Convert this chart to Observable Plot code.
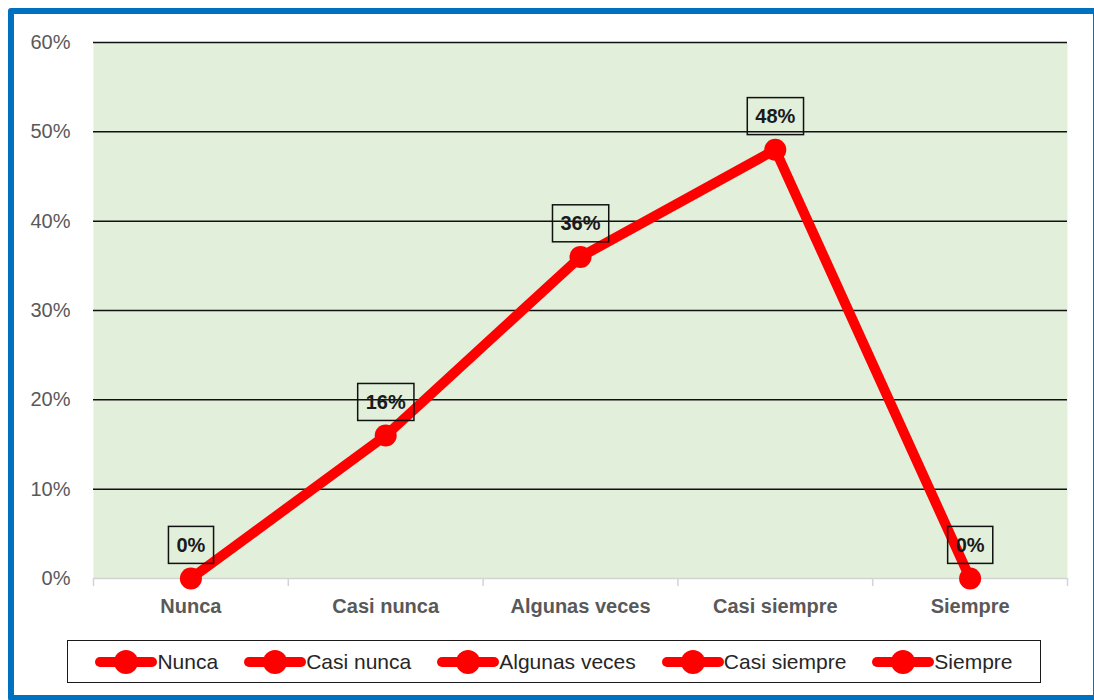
<!DOCTYPE html>
<html>
<head>
<meta charset="utf-8">
<script src="https://cdn.jsdelivr.net/npm/d3@7"></script>
<script src="https://cdn.jsdelivr.net/npm/@observablehq/plot@0.6"></script>
<style>
  html, body { margin: 0; padding: 0; background: #fff; overflow: hidden; }
  #wrap { position: relative; width: 1094px; height: 700px; font-family: "Liberation Sans", Arial, sans-serif; }
  #frame { position: absolute; left: 8px; top: 8px; width: 1079px; height: 681px; border: 6px solid #0070C0; border-radius: 3px; }
  #chart { position: absolute; left: 0; top: 0; }
  #legend { position: absolute; left: 67px; top: 640px; width: 972px; height: 41px; border: 1.5px solid #1a1a1a;
            display: flex; align-items: center; justify-content: center; gap: 26px; font-size: 21px; color: #262626; }
  .entry { display: flex; align-items: center; }
  .entry svg { display: block; }
</style>
</head>
<body>
<div id="wrap">
  <div id="frame"></div>
  <div id="chart"></div>
  <div id="legend"></div>
</div>
<script>
// Frecuencia de respuesta por categoría
const categories = ["Nunca", "Casi nunca", "Algunas veces", "Casi siempre", "Siempre"];
const shares = [0, 0.16, 0.36, 0.48, 0];
const yTicks = [0, 0.1, 0.2, 0.3, 0.4, 0.5, 0.6];

const pct = d3.format(".0%");
const idx = d3.range(categories.length);
const data = idx.map(i => ({pos: i + 0.5, category: categories[i], value: shares[i]}));

const chart = Plot.plot({
  width: 1094,
  height: 630,
  marginLeft: 93,
  marginRight: 27,
  marginTop: 42,
  marginBottom: 52,
  style: {fontFamily: "Liberation Sans, Arial, sans-serif", background: "transparent"},
  x: {type: "linear", domain: [0, categories.length]},
  y: {domain: [0, 0.6]},
  marks: [
    Plot.frame({fill: "#E2EFDA", stroke: null}),
    Plot.ruleY(yTicks.filter(v => v > 0), {stroke: "#111", strokeWidth: 1.5}),
    Plot.ruleY([0], {stroke: "#d4d4d4", strokeWidth: 1.5}),
    // tick marks at the category boundaries
    Plot.axisX(d3.range(categories.length + 1), {tickSize: 8, stroke: "#d4d4d4", strokeWidth: 1.5, tickFormat: () => "", label: null}),
    // category names at the centre of each slot
    Plot.axisX(idx.map(i => i + 0.5), {tickSize: 0, tickPadding: 20, tickFormat: v => categories[Math.floor(v)],
      fontSize: 20, fontWeight: "bold", fill: "#595959", label: null}),
    Plot.axisY(yTicks, {tickSize: 0, tickPadding: 23, tickFormat: pct, fontSize: 20, fill: "#595959", label: null}),
    Plot.line(data, {x: "pos", y: "value", stroke: "#FF0000", strokeWidth: 10, strokeLinejoin: "round", strokeLinecap: "round"}),
    Plot.dot(data, {x: "pos", y: "value", r: 11, fill: "#FF0000", stroke: null}),
    Plot.text(data, {x: "pos", y: "value", text: d => pct(d.value), dy: -33, fontSize: 20, fontWeight: "bold", fill: "#1a1a1a"})
  ]
});
document.getElementById("chart").appendChild(chart);

// Boxes around the value labels
d3.select(chart).selectAll('g[aria-label="text"] text').each(function() {
  const b = this.getBBox();
  const padX = 8, h = 37;
  d3.select(this.parentNode).insert("rect", () => this)
    .attr("x", b.x - padX).attr("y", b.y + b.height / 2 - h / 2)
    .attr("width", b.width + 2 * padX).attr("height", h)
    .attr("transform", this.getAttribute("transform"))
    .attr("fill", "none").attr("stroke", "#111").attr("stroke-width", 1.5);
});

// Legend: one entry per category
const legend = d3.select("#legend");
categories.forEach(name => {
  const e = legend.append("div").attr("class", "entry");
  const s = e.append("svg").attr("width", 62).attr("height", 26);
  s.append("line").attr("x1", 5).attr("x2", 57).attr("y1", 13).attr("y2", 13)
    .attr("stroke", "#FF0000").attr("stroke-width", 10).attr("stroke-linecap", "round");
  s.append("circle").attr("cx", 31).attr("cy", 13).attr("r", 12).attr("fill", "#FF0000");
  e.append("span").text(name);
});
</script>
</body>
</html>
